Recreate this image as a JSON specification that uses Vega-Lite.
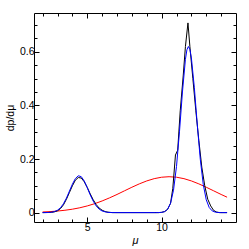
{
  "$schema": "https://vega.github.io/schema/vega-lite/v6.json",
  "width": 202,
  "height": 209,
  "autosize": {"type": "none"},
  "padding": {"left": 34, "top": 13, "right": 13, "bottom": 27},
  "background": "white",
  "config": {
    "view": {"stroke": "black", "strokeWidth": 1},
    "axis": {
      "domain": false,
      "grid": false,
      "tickColor": "black",
      "tickWidth": 1,
      "labelFont": "Liberation Sans",
      "labelFontSize": 10.5,
      "labelColor": "black",
      "titleFont": "Liberation Sans",
      "titleColor": "black",
      "titleFontWeight": "normal"
    }
  },
  "datasets": {
    "curves": [
      {"curve": "red", "x": 2.0, "y": 0.0024},
      {"curve": "red", "x": 2.5, "y": 0.0038},
      {"curve": "red", "x": 3.0, "y": 0.0059},
      {"curve": "red", "x": 3.5, "y": 0.0088},
      {"curve": "red", "x": 4.0, "y": 0.0128},
      {"curve": "red", "x": 4.5, "y": 0.0181},
      {"curve": "red", "x": 5.0, "y": 0.025},
      {"curve": "red", "x": 5.5, "y": 0.0334},
      {"curve": "red", "x": 6.0, "y": 0.0435},
      {"curve": "red", "x": 6.5, "y": 0.0551},
      {"curve": "red", "x": 7.0, "y": 0.0678},
      {"curve": "red", "x": 7.5, "y": 0.0813},
      {"curve": "red", "x": 8.0, "y": 0.0947},
      {"curve": "red", "x": 8.5, "y": 0.1073},
      {"curve": "red", "x": 9.0, "y": 0.1183},
      {"curve": "red", "x": 9.5, "y": 0.1268},
      {"curve": "red", "x": 10.0, "y": 0.1321},
      {"curve": "red", "x": 10.5, "y": 0.134},
      {"curve": "red", "x": 11.0, "y": 0.1321},
      {"curve": "red", "x": 11.5, "y": 0.1268},
      {"curve": "red", "x": 12.0, "y": 0.1183},
      {"curve": "red", "x": 12.5, "y": 0.1073},
      {"curve": "red", "x": 13.0, "y": 0.0947},
      {"curve": "red", "x": 13.5, "y": 0.0813},
      {"curve": "red", "x": 14.0, "y": 0.0678},
      {"curve": "red", "x": 14.4, "y": 0.0576},

      {"curve": "black", "x": 2.0, "y": 0.0},
      {"curve": "black", "x": 2.4, "y": 0.0005},
      {"curve": "black", "x": 2.6, "y": 0.001},
      {"curve": "black", "x": 2.8, "y": 0.003},
      {"curve": "black", "x": 3.0, "y": 0.007},
      {"curve": "black", "x": 3.2, "y": 0.015},
      {"curve": "black", "x": 3.4, "y": 0.029},
      {"curve": "black", "x": 3.6, "y": 0.05},
      {"curve": "black", "x": 3.8, "y": 0.075},
      {"curve": "black", "x": 4.0, "y": 0.1},
      {"curve": "black", "x": 4.2, "y": 0.121},
      {"curve": "black", "x": 4.4, "y": 0.131},
      {"curve": "black", "x": 4.6, "y": 0.129},
      {"curve": "black", "x": 4.8, "y": 0.115},
      {"curve": "black", "x": 5.0, "y": 0.094},
      {"curve": "black", "x": 5.2, "y": 0.07},
      {"curve": "black", "x": 5.4, "y": 0.048},
      {"curve": "black", "x": 5.6, "y": 0.03},
      {"curve": "black", "x": 5.8, "y": 0.017},
      {"curve": "black", "x": 6.0, "y": 0.009},
      {"curve": "black", "x": 6.2, "y": 0.004},
      {"curve": "black", "x": 6.4, "y": 0.0015},
      {"curve": "black", "x": 6.7, "y": 0.0},
      {"curve": "black", "x": 9.8, "y": 0.0},
      {"curve": "black", "x": 10.0, "y": 0.001},
      {"curve": "black", "x": 10.2, "y": 0.004},
      {"curve": "black", "x": 10.4, "y": 0.012},
      {"curve": "black", "x": 10.6, "y": 0.035},
      {"curve": "black", "x": 10.75, "y": 0.09},
      {"curve": "black", "x": 10.93, "y": 0.215},
      {"curve": "black", "x": 11.08, "y": 0.233},
      {"curve": "black", "x": 11.25, "y": 0.38},
      {"curve": "black", "x": 11.45, "y": 0.51},
      {"curve": "black", "x": 11.6, "y": 0.62},
      {"curve": "black", "x": 11.77, "y": 0.708},
      {"curve": "black", "x": 11.9, "y": 0.62},
      {"curve": "black", "x": 12.1, "y": 0.5},
      {"curve": "black", "x": 12.3, "y": 0.38},
      {"curve": "black", "x": 12.5, "y": 0.27},
      {"curve": "black", "x": 12.7, "y": 0.17},
      {"curve": "black", "x": 12.9, "y": 0.1},
      {"curve": "black", "x": 13.1, "y": 0.05},
      {"curve": "black", "x": 13.3, "y": 0.025},
      {"curve": "black", "x": 13.5, "y": 0.008},
      {"curve": "black", "x": 13.7, "y": 0.002},
      {"curve": "black", "x": 13.9, "y": 0.0},
      {"curve": "black", "x": 14.4, "y": 0.0},

      {"curve": "blue", "x": 2.0, "y": 0.0},
      {"curve": "blue", "x": 2.4, "y": 0.0004},
      {"curve": "blue", "x": 2.6, "y": 0.0016},
      {"curve": "blue", "x": 2.8, "y": 0.004},
      {"curve": "blue", "x": 3.0, "y": 0.009},
      {"curve": "blue", "x": 3.2, "y": 0.018},
      {"curve": "blue", "x": 3.4, "y": 0.033},
      {"curve": "blue", "x": 3.6, "y": 0.054},
      {"curve": "blue", "x": 3.8, "y": 0.08},
      {"curve": "blue", "x": 4.0, "y": 0.106},
      {"curve": "blue", "x": 4.2, "y": 0.127},
      {"curve": "blue", "x": 4.4, "y": 0.1376},
      {"curve": "blue", "x": 4.6, "y": 0.134},
      {"curve": "blue", "x": 4.8, "y": 0.118},
      {"curve": "blue", "x": 5.0, "y": 0.093},
      {"curve": "blue", "x": 5.2, "y": 0.066},
      {"curve": "blue", "x": 5.4, "y": 0.043},
      {"curve": "blue", "x": 5.6, "y": 0.025},
      {"curve": "blue", "x": 5.8, "y": 0.013},
      {"curve": "blue", "x": 6.0, "y": 0.006},
      {"curve": "blue", "x": 6.3, "y": 0.0016},
      {"curve": "blue", "x": 6.6, "y": 0.0003},
      {"curve": "blue", "x": 7.0, "y": 0.0},
      {"curve": "blue", "x": 9.6, "y": 0.0},
      {"curve": "blue", "x": 9.8, "y": 0.0002},
      {"curve": "blue", "x": 10.0, "y": 0.001},
      {"curve": "blue", "x": 10.2, "y": 0.0037},
      {"curve": "blue", "x": 10.4, "y": 0.0123},
      {"curve": "blue", "x": 10.6, "y": 0.0349},
      {"curve": "blue", "x": 10.8, "y": 0.0839},
      {"curve": "blue", "x": 11.0, "y": 0.1724},
      {"curve": "blue", "x": 11.2, "y": 0.3017},
      {"curve": "blue", "x": 11.4, "y": 0.4502},
      {"curve": "blue", "x": 11.6, "y": 0.5723},
      {"curve": "blue", "x": 11.7, "y": 0.6077},
      {"curve": "blue", "x": 11.8, "y": 0.62},
      {"curve": "blue", "x": 11.9, "y": 0.609},
      {"curve": "blue", "x": 12.0, "y": 0.5774},
      {"curve": "blue", "x": 12.2, "y": 0.4663},
      {"curve": "blue", "x": 12.4, "y": 0.3267},
      {"curve": "blue", "x": 12.6, "y": 0.1985},
      {"curve": "blue", "x": 12.8, "y": 0.1047},
      {"curve": "blue", "x": 13.0, "y": 0.0478},
      {"curve": "blue", "x": 13.2, "y": 0.019},
      {"curve": "blue", "x": 13.4, "y": 0.0065},
      {"curve": "blue", "x": 13.6, "y": 0.0019},
      {"curve": "blue", "x": 13.8, "y": 0.0005},
      {"curve": "blue", "x": 14.0, "y": 0.0},
      {"curve": "blue", "x": 14.4, "y": 0.0}
    ]
  },
  "data": {"name": "curves"},
  "resolve": {"axis": {"x": "independent", "y": "independent"}},
  "layer": [
    {
      "transform": [{"filter": "datum.curve === 'red'"}],
      "mark": {"type": "line", "color": "#ff0000", "strokeWidth": 1, "clip": true},
      "encoding": {
        "x": {"field": "x", "type": "quantitative", "scale": {"domain": [1.42, 15.0], "nice": false, "zero": false}, "axis": null},
        "y": {"field": "y", "type": "quantitative", "scale": {"domain": [-0.035, 0.745], "nice": false, "zero": false}, "axis": null}
      }
    },
    {
      "transform": [{"filter": "datum.curve === 'black'"}],
      "mark": {"type": "line", "color": "#000000", "strokeWidth": 1, "clip": true},
      "encoding": {
        "x": {
          "field": "x", "type": "quantitative",
          "scale": {"domain": [1.42, 15.0], "nice": false, "zero": false},
          "axis": {
            "orient": "bottom",
            "values": [2, 3, 4, 5, 6, 7, 8, 9, 10, 11, 12, 13, 14],
            "tickSize": {"condition": {"test": "datum.value % 5 === 0", "value": -5}, "value": -3},
            "labelExpr": "datum.value % 5 === 0 ? datum.label : ''",
            "labelPadding": 5,
            "title": "μ",
            "titleFontStyle": "italic",
            "titleFontSize": 11,
            "titlePadding": 2
          }
        },
        "y": {
          "field": "y", "type": "quantitative",
          "scale": {"domain": [-0.035, 0.745], "nice": false, "zero": false},
          "axis": {
            "orient": "left",
            "values": [0, 0.05, 0.1, 0.15, 0.2, 0.25, 0.3, 0.35, 0.4, 0.45, 0.5, 0.55, 0.6, 0.65, 0.7],
            "tickSize": {"condition": {"test": "abs(datum.value * 5 - round(datum.value * 5)) < 0.001", "value": -5}, "value": -3},
            "labelExpr": "abs(datum.value * 5 - round(datum.value * 5)) < 0.001 ? datum.label : ''",
            "format": "~g",
            "labelPadding": 5,
            "title": "dp/dμ",
            "titleFontSize": 10.5,
            "titlePadding": 4
          }
        }
      }
    },
    {
      "transform": [{"filter": "datum.curve === 'blue'"}],
      "mark": {"type": "line", "color": "#0000ff", "strokeWidth": 1, "clip": true},
      "encoding": {
        "x": {
          "field": "x", "type": "quantitative",
          "scale": {"domain": [1.42, 15.0], "nice": false, "zero": false},
          "axis": {
            "orient": "top",
            "values": [2, 3, 4, 5, 6, 7, 8, 9, 10, 11, 12, 13, 14],
            "tickSize": {"condition": {"test": "datum.value % 5 === 0", "value": -5}, "value": -3},
            "labels": false,
            "title": null
          }
        },
        "y": {
          "field": "y", "type": "quantitative",
          "scale": {"domain": [-0.035, 0.745], "nice": false, "zero": false},
          "axis": {
            "orient": "right",
            "values": [0, 0.05, 0.1, 0.15, 0.2, 0.25, 0.3, 0.35, 0.4, 0.45, 0.5, 0.55, 0.6, 0.65, 0.7],
            "tickSize": {"condition": {"test": "abs(datum.value * 5 - round(datum.value * 5)) < 0.001", "value": -5}, "value": -3},
            "labels": false,
            "title": null
          }
        }
      }
    }
  ]
}
